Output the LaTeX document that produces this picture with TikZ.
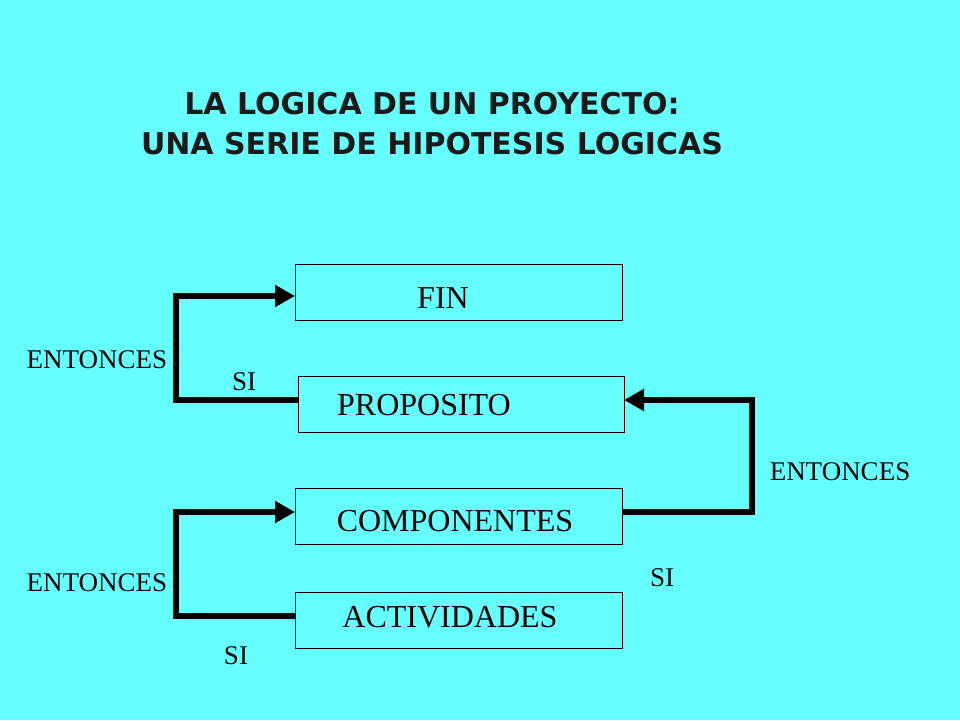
\documentclass[tikz,border=0pt]{standalone}
\usepackage{fontspec}
\setmainfont{Liberation Serif}
\newfontfamily\titlefont{DejaVu Sans}
\usetikzlibrary{arrows.meta}
\definecolor{bg}{HTML}{66FFFF}
\definecolor{ttl}{HTML}{1A1A1A}
\begin{document}
\begin{tikzpicture}[x=1pt,y=-1pt,
  box/.style={draw=black,line width=1pt,fill=bg},
  lbl/.style={font=\fontsize{32}{36}\selectfont},
  small/.style={font=\fontsize{27}{30}\selectfont},
  conn/.style={line width=6pt,-{Triangle[length=20pt,width=21pt]}}]
\fill[bg] (0,0) rectangle (960,720);
\useasboundingbox (0,0) rectangle (960,720);
\node[font=\titlefont\bfseries\fontsize{30}{40}\selectfont,text=ttl,align=center] (title) at (432,124)
 {LA LOGICA DE UN PROYECTO:\\UNA SERIE DE HIPOTESIS LOGICAS};
\draw[box] (295,264) rectangle (622,320); \coordinate (finL) at (295,296);
\draw[box] (298,376) rectangle (624,432); \coordinate (proL) at (298,400); \coordinate (proR) at (624,400);
\draw[box] (295,488) rectangle (622,544); \coordinate (comL) at (295,512); \coordinate (comR) at (622,512);
\draw[box] (295,592) rectangle (622,648); \coordinate (actL) at (295,616);
\node[lbl] (fin) at (443,298) {FIN};
\node[lbl] (pro) at (424,405) {PROPOSITO};
\node[lbl] (com) at (455,521) {COMPONENTES};
\node[lbl] (act) at (450,617) {ACTIVIDADES};
\draw[conn] (proL) -- (176,400) -- (176,296) -- (finL);
\draw[conn] (comR) -- (752,512) -- (752,400) -- (proR);
\draw[conn] (actL) -- (176,616) -- (176,512) -- (comL);
\node[small] (e1) at (97,360) {ENTONCES};
\node[small] (s1) at (244,382) {SI};
\node[small] (e2) at (840,472) {ENTONCES};
\node[small] (s2) at (662,578) {SI};
\node[small] (e3) at (97,583) {ENTONCES};
\node[small] (s3) at (236,656) {SI};
\end{tikzpicture}
\end{document}
